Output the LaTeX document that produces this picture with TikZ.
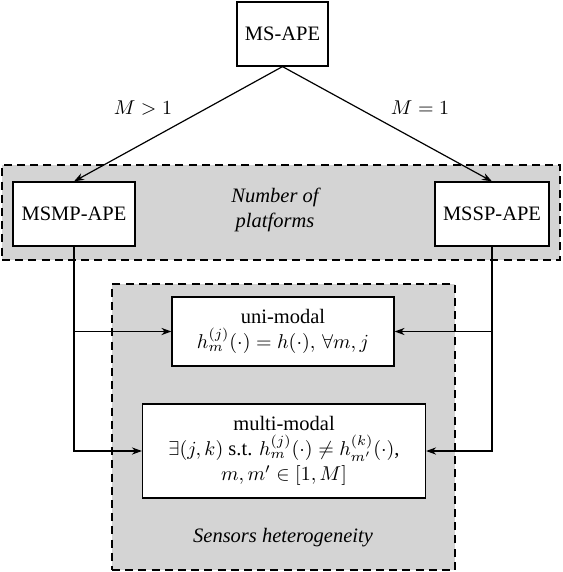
\documentclass[tikz,border=0pt]{standalone}
\usepackage{amsmath, amssymb}
\usepackage{fontspec}
\setmainfont{Liberation Serif}
\usetikzlibrary{calc, arrows.meta}

\begin{document}
\begin{tikzpicture}[x=0.5pt, y=-0.5pt,
    font=\fontsize{10.25}{12.5}\selectfont,
    block/.style={draw, fill=white, line width=0.6pt, inner sep=0pt, align=center},
    region/.style={draw, fill=black!17, line width=0.8pt, dash pattern=on 4pt off 2.6pt, inner sep=0pt},
    arr/.style={-{Stealth[length=5pt, width=3.6pt, inset=1.6pt]}, line width=0.6pt}]
    % --- 1. 畫布範圍 ---
    \useasboundingbox (0,0) rectangle (562,572);

    % --- 2. 兩個虛線區域 ---
    \node[region, minimum width=279pt, minimum height=47.5pt] (platforms) at (281,212.5) {};
    \node[region, minimum width=171.5pt, minimum height=143pt] (sensors) at (283.5,427) {};
    \node[font=\fontsize{10.25}{12.5}\selectfont\itshape, align=center] (platLabel) at (275,209.5) {Number of\\platforms};
    \node[font=\fontsize{10.25}{12.5}\selectfont\itshape] (sensLabel) at (283,538) {Sensors heterogeneity};

    % --- 3. 方塊 ---
    \node[block, minimum width=45.5pt, minimum height=32pt] (ms) at (282.5,34) {MS-APE};
    \node[block, minimum width=61pt, minimum height=32pt] (msmp) at (74,214) {MSMP-APE};
    \node[block, minimum width=57pt, minimum height=32pt] (mssp) at (492,214) {MSSP-APE};
    \node[block, minimum width=111pt, minimum height=34.5pt] (uni) at (283,331.5)
        {uni-modal\\$h_m^{(j)}(\cdot)=h(\cdot),\,\forall m,j$};
    \node[block, minimum width=141.5pt, minimum height=47pt] (multi) at (284,451)
        {multi-modal\\$\exists(j,k)$ s.t. $h_m^{(j)}(\cdot)\neq h_{m'}^{(k)}(\cdot)$,\\$m,m'\in[1,M]$};

    % --- 4. 連線 ---
    \draw[arr] (ms.south) -- (msmp.north);
    \draw[arr] (ms.south) -- (mssp.north);
    \node (lblMany) at (143,108) {$M>1$};
    \node (lblOne) at (420,108) {$M=1$};

    \draw[arr] (msmp.south) |- (multi.west);
    \draw[arr] (msmp.south |- uni.west) -- (uni.west);
    \draw[arr] (mssp.south) |- (multi.east);
    \draw[arr] (mssp.south |- uni.east) -- (uni.east);

\end{tikzpicture}
\end{document}
